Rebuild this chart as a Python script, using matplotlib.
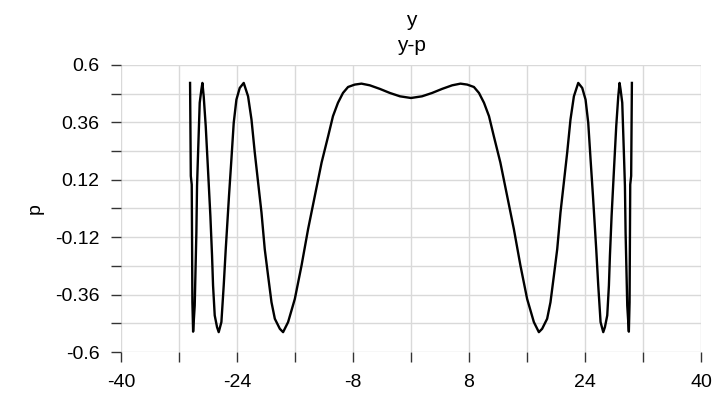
import matplotlib
matplotlib.use("Agg")
import matplotlib.pyplot as plt

plt.rcParams['font.family'] = ['Liberation Sans', 'DejaVu Sans']

# curve, left half then right half
x_left = [-30.47, -30.37, -30.24, -30.15, -30.05, -29.83, -29.60, -29.51, -29.38,
          -29.14, -28.91, -28.77, -28.59, -28.31, -28.00, -27.67, -27.44, -27.30,
          -27.07, -26.75, -26.52, -26.15, -25.83, -25.55, -25.10, -24.77, -24.45,
          -24.08, -23.62, -23.07, -22.47, -22.00, -21.55, -21.09, -20.62, -20.17,
          -19.71, -19.24, -18.78, -18.09, -17.64, -16.95, -16.02, -15.10, -14.19,
          -13.26, -12.33, -11.42, -10.76, -10.07, -9.38, -8.68, -7.76, -6.83,
          -5.68, -4.29, -2.91, -1.52, 0.0]
p_left = [0.525, 0.136, 0.10, -0.392, -0.515, -0.406, -0.10, 0.094, 0.219,
          0.442, 0.497, 0.525, 0.469, 0.344, 0.164, -0.031, -0.197, -0.322,
          -0.447, -0.496, -0.517, -0.475, -0.322, -0.17, 0.053, 0.205, 0.358,
          0.455, 0.504, 0.525, 0.469, 0.372, 0.235, 0.11, -0.017, -0.17,
          -0.281, -0.392, -0.461, -0.503, -0.517, -0.475, -0.378, -0.239, -0.086,
          0.053, 0.192, 0.303, 0.386, 0.442, 0.483, 0.508, 0.518, 0.522,
          0.515, 0.50, 0.483, 0.469, 0.462]

x_right = [1.52, 2.91, 4.29, 5.68, 6.83, 7.76, 8.68, 9.38, 10.07, 10.76, 11.42,
           12.33, 13.26, 14.19, 15.10, 16.02, 16.95, 17.64, 18.09, 18.78, 19.24,
           19.71, 20.17, 20.62, 21.09, 21.55, 22.00, 22.47, 23.07, 23.62, 24.08,
           24.45, 24.77, 25.10, 25.55, 25.83, 26.15, 26.52, 26.75, 27.07, 27.30,
           27.44, 27.67, 28.00, 28.31, 28.59, 28.77, 28.91, 29.14, 29.38, 29.51,
           29.60, 29.83, 30.05, 30.15, 30.24, 30.37, 30.47]
p_right = [0.469, 0.483, 0.50, 0.515, 0.522, 0.518, 0.508, 0.483, 0.442, 0.386, 0.303,
           0.192, 0.053, -0.086, -0.239, -0.378, -0.475, -0.517, -0.503, -0.461, -0.392,
           -0.281, -0.17, -0.017, 0.11, 0.235, 0.372, 0.469, 0.525, 0.504, 0.455,
           0.358, 0.205, 0.053, -0.17, -0.322, -0.475, -0.517, -0.496, -0.447, -0.322,
           -0.197, -0.031, 0.164, 0.344, 0.469, 0.525, 0.497, 0.442, 0.219, 0.094,
           -0.10, -0.406, -0.515, -0.392, 0.10, 0.136, 0.525]

x_major = [-40, -24, -8, 8, 24, 40]
x_minor = [-32, -16, 0, 16, 32]
y_major = [-0.6, -0.36, -0.12, 0.12, 0.36, 0.6]
y_minor = [-0.48, -0.24, 0.0, 0.24, 0.48]

fig = plt.figure(figsize=(7.15, 3.96), dpi=100)
ax = fig.add_axes([0.1692, 0.1111, 0.8112, 0.7248])

ax.plot(x_left + x_right, p_left + p_right, color='black', lw=1.7)

ax.set_xlim(-40, 40)
ax.set_ylim(-0.6, 0.6)
ax.set_xticks(x_major)
ax.set_xticklabels(['-40', '-24', '-8', '8', '24', '40'])
ax.set_xticks(x_minor, minor=True)
ax.set_yticks(y_major)
ax.set_yticklabels(['-0.6', '-0.36', '-0.12', '0.12', '0.36', '0.6'])
ax.set_yticks(y_minor, minor=True)

for s in ax.spines.values():
    s.set_visible(False)
ax.grid(True, which='both', color='#d9d9d9', lw=1)
ax.set_axisbelow(True)
ax.tick_params(which='both', direction='out', length=7.5, width=1, color='#333333',
               labelsize=14, pad=8)

ax.set_ylabel('p', fontsize=14, labelpad=8)
fig.text(0.5748, 0.947, 'y', ha='center', va='center', fontsize=15)
fig.text(0.5748, 0.884, 'y-p', ha='center', va='center', fontsize=15)

fig.savefig('out.png', dpi=100)
